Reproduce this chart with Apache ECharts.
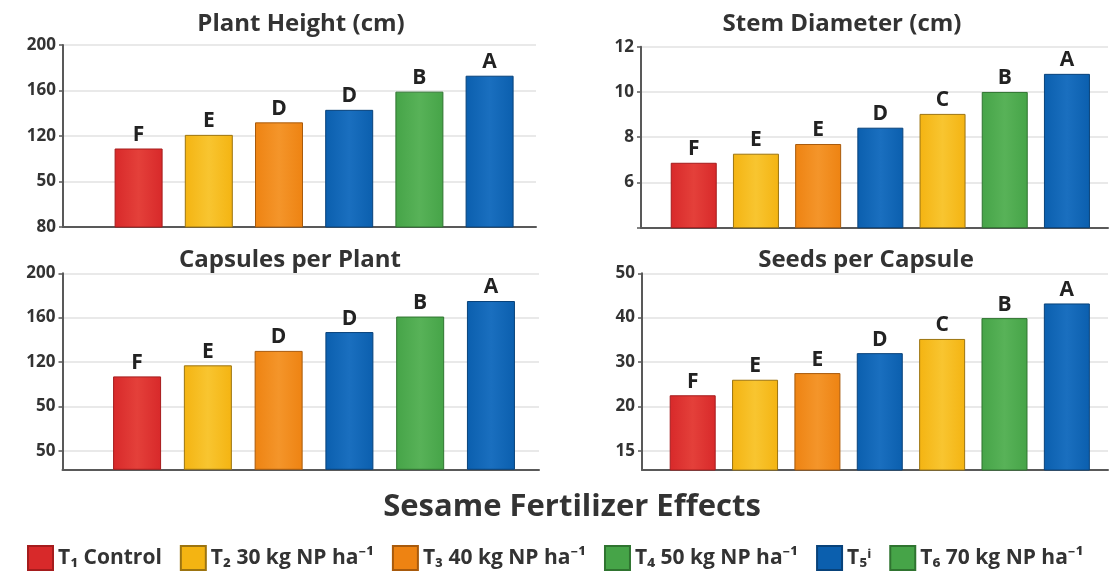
<!DOCTYPE html>
<html>
<head>
<meta charset="utf-8">
<script src="https://cdn.jsdelivr.net/npm/echarts@6/dist/echarts.min.js"></script>
<style>html,body{margin:0;padding:0;background:#fff}#c{width:1110px;height:580px}</style>
</head>
<body>
<div id="c"></div>
<script>
// ---------- DATA ----------
const phValues = [109, 121, 132, 143, 159, 173];
const phLetters = ['F', 'E', 'D', 'D', 'B', 'A'];
const phKeys = ['red', 'yellow', 'orange', 'blue', 'green', 'blue'];
const phTickValues = [40, 80, 120, 160, 200];
const phTickLabels = ['80', '50', '120', '160', '200'];

const sdValues = [6.87, 7.27, 7.7, 8.42, 9.03, 10.0, 10.8];
const sdLetters = ['F', 'E', 'E', 'D', 'C', 'B', 'A'];
const sdKeys = ['red', 'yellow', 'orange', 'blue', 'yellow', 'green', 'blue'];
const sdTickValues = [4, 6, 8, 10, 12];
const sdTickLabels = ['', '6', '8', '10', '12'];

const cpValues = [107, 117, 130, 147, 161, 175];
const cpLetters = ['F', 'E', 'D', 'D', 'B', 'A'];
const cpKeys = ['red', 'yellow', 'orange', 'blue', 'green', 'blue'];
const cpTickValues = [40, 80, 120, 160, 200];
const cpTickLabels = ['50', '50', '120', '160', '200'];

const spValues = [22.5, 26, 27.5, 32, 35.2, 39.9, 43.2];
const spLetters = ['F', 'E', 'E', 'D', 'C', 'B', 'A'];
const spKeys = ['red', 'yellow', 'orange', 'blue', 'yellow', 'green', 'blue'];
const spTickValues = [10, 20, 30, 40, 50];
const spTickLabels = ['15', '20', '30', '40', '50'];

const panelTitles = ['Plant Height (cm)', 'Stem Diameter (cm)', 'Capsules per Plant', 'Seeds per Capsule'];
const mainTitle = 'Sesame Fertilizer Effects';
const legendNames = ['T\u2081 Control', 'T\u2082 30 kg NP ha\u207B\u00B9', 'T\u2083 40 kg NP ha\u207B\u00B9', 'T\u2084 50 kg NP ha\u207B\u00B9', 'T\u2085\u2071', 'T\u2086 70 kg NP ha\u207B\u00B9'];
const legendKeys = ['red', 'yellow', 'orange', 'green', 'blue', 'green'];

// ---------- STYLE ----------
const FONT = '"Open Sans", "Noto Sans", sans-serif';
const palette = {
  red:    {c: '#d8292a', l: '#e4403a', d: '#a51c1d'},
  yellow: {c: '#f4b412', l: '#f8c530', d: '#9c7410'},
  orange: {c: '#ee8312', l: '#f4952a', d: '#a85a0c'},
  blue:   {c: '#0b5fae', l: '#1a6fbf', d: '#08427a'},
  green:  {c: '#46a448', l: '#58b258', d: '#2f7430'}
};
function fill(k) {
  const p = palette[k];
  return new echarts.graphic.LinearGradient(0, 0, 1, 0, [
    {offset: 0, color: p.c}, {offset: 0.5, color: p.l}, {offset: 1, color: p.c}
  ]);
}

const grids = [
  {left: 63, top: 45, width: 473, height: 182},
  {left: 641, top: 46.7, width: 467, height: 181},
  {left: 62.5, top: 273.3, width: 476.5, height: 196},
  {left: 642, top: 273.3, width: 466, height: 196.7},
  {left: 0, top: 0, width: 1, height: 1, show: false}
];
const xRanges = [[-1.077, 5.661], [-0.848, 6.66], [-1.054, 5.679], [-0.813, 6.66]];
const yRanges = [[40, 200], [4, 12], [23.2, 200], [5.65, 50]];
const barWidths = [48, 46, 48, 46];

const panels = [
  [phValues, phLetters, phKeys, phTickValues, phTickLabels],
  [sdValues, sdLetters, sdKeys, sdTickValues, sdTickLabels],
  [cpValues, cpLetters, cpKeys, cpTickValues, cpTickLabels],
  [spValues, spLetters, spKeys, spTickValues, spTickLabels]
];

const xAxes = [], yAxes = [], series = [];
panels.forEach((p, gi) => {
  const [vals, lets, keys, ticks, labels] = p;
  xAxes.push({
    type: 'value', gridIndex: gi, min: xRanges[gi][0], max: xRanges[gi][1],
    axisLine: {show: true, onZero: false, lineStyle: {color: '#595959', width: 2}},
    axisTick: {show: false}, axisLabel: {show: false}, splitLine: {show: false}
  });
  yAxes.push({
    type: 'value', gridIndex: gi, min: yRanges[gi][0], max: yRanges[gi][1],
    axisLine: {show: true, onZero: false, lineStyle: {color: '#595959', width: 2}},
    axisTick: {show: true, length: 4, customValues: ticks, lineStyle: {color: '#595959', width: 1.5}},
    axisLabel: {
      customValues: ticks,
      formatter: v => { const i = ticks.findIndex(t => Math.abs(t - v) < 1e-6); return i >= 0 ? labels[i] : ''; },
      fontFamily: FONT, fontWeight: 'bold', fontSize: 17, color: '#333', margin: 7
    },
    splitLine: {show: true, lineStyle: {color: '#e2e2e2', width: 1.5}}
  });
  series.push({
    type: 'bar', xAxisIndex: gi, yAxisIndex: gi, barWidth: barWidths[gi],
    data: vals.map((v, i) => ({
      value: [i, v],
      itemStyle: {color: fill(keys[i]), borderColor: palette[keys[i]].d, borderWidth: 1}
    })),
    label: {
      show: true, position: 'top', distance: 3,
      formatter: q => lets[q.dataIndex],
      fontFamily: FONT, fontWeight: 'bold', fontSize: 21, color: '#222'
    },
    silent: true, animation: false
  });
});
xAxes.push({type: 'value', gridIndex: 4, show: false});
yAxes.push({type: 'value', gridIndex: 4, show: false});
legendNames.forEach((n, i) => {
  series.push({
    type: 'bar', name: n, xAxisIndex: 4, yAxisIndex: 4, data: [],
    itemStyle: {color: palette[legendKeys[i]].c, borderColor: palette[legendKeys[i]].d, borderWidth: 1}
  });
});

const titlePos = [[301, 24], [842, 24], [290, 260], [866, 260]];
const graphics = panelTitles.map((t, i) => ({
  type: 'text', x: titlePos[i][0], y: titlePos[i][1],
  style: {text: t, align: 'center', verticalAlign: 'middle', fill: '#333',
    font: 'bold 24px ' + FONT}
}));
graphics.push({
  type: 'text', x: 572, y: 507,
  style: {text: mainTitle, align: 'center', verticalAlign: 'middle', fill: '#333',
    font: 'bold 31px ' + FONT}
});

const chart = echarts.init(document.getElementById('c'), null, {renderer: 'canvas'});
chart.setOption({
  animation: false,
  backgroundColor: '#fff',
  grid: grids,
  xAxis: xAxes,
  yAxis: yAxes,
  series: series,
  graphic: graphics,
  legend: {
    left: 22, top: 540, itemWidth: 25, itemHeight: 24, itemGap: 18, icon: 'rect',
    selectedMode: false, data: legendNames,
    textStyle: {fontFamily: FONT, fontWeight: 'bold', fontSize: 21, color: '#333', padding: [0, 0, 0, 0]}
  }
});
</script>
</body>
</html>
